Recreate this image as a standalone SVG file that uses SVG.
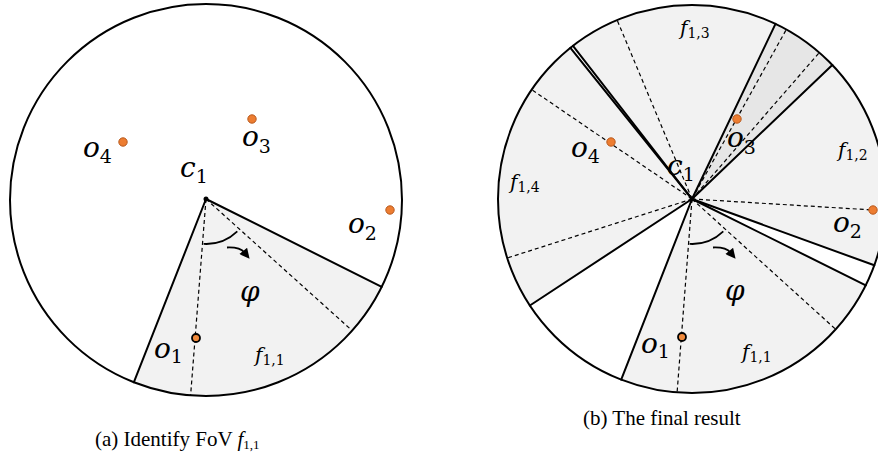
<svg xmlns="http://www.w3.org/2000/svg" width="878" height="461" viewBox="0 0 878 461">
<style>
.bg{fill:#ffffff}
.ring{fill:none;stroke:#000;stroke-width:2}
.fov{fill:#f2f2f2;stroke:none}
.fov2{fill:#e6e6e6;stroke:none}
.solid{stroke:#000;stroke-width:2;fill:none;stroke-linecap:round}
.dash{stroke:#000;stroke-width:1.2;fill:none;stroke-dasharray:4 3}
.obj{fill:#ED7D31;stroke:#B85A1E;stroke-width:1}
.obj1{fill:#F08A3C;stroke:#000;stroke-width:1.8}
.cam{fill:#000}
.m{font-family:"DejaVu Serif",serif;font-style:italic;font-size:28px;fill:#000}
.f{font-family:"DejaVu Serif",serif;font-style:italic;font-size:20px;fill:#000}
.sub{font-style:normal;font-size:19px}
.subf{font-style:normal;font-size:14px}
.cap{font-family:"Liberation Serif","Times New Roman",serif;font-size:21px;fill:#000}
.arc{stroke:#000;stroke-width:1.8;fill:none}
</style>
<defs>
<marker id="ah" viewBox="0 0 10 10" refX="2" refY="5" markerWidth="11" markerHeight="10" markerUnits="userSpaceOnUse" orient="auto">
<path d="M0,0 L10,5 L0,10 Z" fill="#000"/>
</marker>
<g id="angle">
<path class="arc" d="M-2.4,44.9 A45,45 0 0 0 31.3,32.4"/>
<path class="arc" d="M21,48.5 Q34,48 38.5,53.5" marker-end="url(#ah)"/>
</g>
</defs>

<!-- Panel (a) -->
<g id="panel-a">
<circle class="bg" cx="206" cy="200" r="196"/>
<path id="fov-a-f11" class="fov" d="M206,199 L381.7,286.8 A196,196 0 0 1 133.9,382.2 Z"/>
<g id="connectors-a">
<line class="solid" x1="206" y1="199" x2="381.7" y2="286.8"/>
<line class="solid" x1="206" y1="199" x2="133.9" y2="382.2"/>
<line class="dash" x1="206" y1="199" x2="190.6" y2="395.4"/>
<line class="dash" x1="206" y1="199" x2="352.1" y2="330.6"/>
<use href="#angle" transform="translate(206,199)"/>
</g>
<circle class="ring" cx="206" cy="200" r="196"/>
<g id="a-c1"><circle class="cam" cx="206" cy="199" r="2.5"/><text class="m" x="180" y="177">c<tspan class="sub" dy="6">1</tspan></text></g>
<g id="a-o1"><circle class="obj1" cx="196" cy="338" r="4"/><text class="m" x="154" y="358">o<tspan class="sub" dy="5">1</tspan></text></g>
<g id="a-o2"><circle class="obj" cx="390" cy="210" r="4.2"/><text class="m" x="348" y="233">o<tspan class="sub" dy="7">2</tspan></text></g>
<g id="a-o3"><circle class="obj" cx="252" cy="119" r="4.2"/><text class="m" x="242" y="146">o<tspan class="sub" dy="7">3</tspan></text></g>
<g id="a-o4"><circle class="obj" cx="123" cy="142" r="4.2"/><text class="m" x="83" y="157">o<tspan class="sub" dy="6">4</tspan></text></g>
<text class="m" x="240" y="301">φ</text>
<text class="f" x="255" y="362">f<tspan class="subf" dy="3">1,1</tspan></text>
</g>

<!-- Panel (b) -->
<g id="panel-b">
<circle class="bg" cx="692" cy="199" r="194"/>
<path id="fov-b-f11" class="fov" d="M692,199 L865.8,285.3 A194,194 0 0 1 621.2,379.6 Z"/>
<path id="fov-b-f12" class="fov" d="M692,199 L832.3,65 A194,194 0 0 1 874.3,265.3 Z"/>
<path id="fov-b-o3" class="fov2" d="M692,199 L775.5,23.9 A194,194 0 0 1 832.3,65 Z"/>
<path id="fov-b-f13" class="fov" d="M692,199 L573,45.8 A194,194 0 0 1 775.5,23.9 Z"/>
<path id="fov-b-f14" class="fov" d="M692,199 L529.9,305.5 A194,194 0 0 1 570.4,47.8 Z"/>
<g id="connectors-b">
<line class="dash" x1="692" y1="199" x2="677.1" y2="392.4"/>
<line class="dash" x1="692" y1="199" x2="835.7" y2="329.3"/>
<line class="dash" x1="692" y1="199" x2="873" y2="210"/>
<line class="dash" x1="692" y1="199" x2="819.3" y2="52.6"/>
<line class="dash" x1="692" y1="199" x2="786.3" y2="29.5"/>
<line class="dash" x1="692" y1="199" x2="617.1" y2="20"/>
<line class="dash" x1="692" y1="199" x2="531.8" y2="89.7"/>
<line class="dash" x1="692" y1="199" x2="507.2" y2="258"/>
<line class="solid" x1="692" y1="199" x2="621.2" y2="379.6"/>
<line class="solid" x1="692" y1="199" x2="865.8" y2="285.3"/>
<line class="solid" x1="692" y1="199" x2="874.3" y2="265.3"/>
<line class="solid" x1="692" y1="199" x2="832.3" y2="65"/>
<line class="solid" x1="692" y1="199" x2="775.5" y2="23.9"/>
<line class="solid" x1="692" y1="199" x2="573" y2="45.8"/>
<line class="solid" x1="692" y1="199" x2="570.4" y2="47.8"/>
<line class="solid" x1="692" y1="199" x2="529.9" y2="305.5"/>
<use href="#angle" transform="translate(692,199)"/>
</g>
<circle class="ring" cx="692" cy="199" r="194"/>
<g id="b-c1"><circle class="cam" cx="692" cy="199" r="2.5"/><text class="m" x="667" y="175">c<tspan class="sub" dy="6">1</tspan></text></g>
<g id="b-o1"><circle class="obj1" cx="682" cy="337" r="4"/><text class="m" x="641" y="353">o<tspan class="sub" dy="5">1</tspan></text></g>
<g id="b-o2"><circle class="obj" cx="873" cy="210" r="4.2"/><text class="m" x="833" y="232">o<tspan class="sub" dy="6">2</tspan></text></g>
<g id="b-o3"><circle class="obj" cx="737" cy="119" r="4.2"/><text class="m" x="727" y="147">o<tspan class="sub" dy="7">3</tspan></text></g>
<g id="b-o4"><circle class="obj" cx="611" cy="142" r="4.2"/><text class="m" x="571" y="157">o<tspan class="sub" dy="6">4</tspan></text></g>
<text class="m" x="725" y="300">φ</text>
<text class="f" x="742" y="359">f<tspan class="subf" dy="3">1,1</tspan></text>
<text class="f" x="838" y="157">f<tspan class="subf" dy="3">1,2</tspan></text>
<text class="f" x="680" y="35">f<tspan class="subf" dy="3">1,3</tspan></text>
<text class="f" x="510" y="189">f<tspan class="subf" dy="3">1,4</tspan></text>
</g>

<g id="captions">
<text class="cap" x="95" y="446">(a) Identify FoV <tspan font-style="italic">f</tspan><tspan font-size="13" dy="3">1,1</tspan></text>
<text class="cap" x="583" y="425">(b) The final result</text>
</g>
</svg>
